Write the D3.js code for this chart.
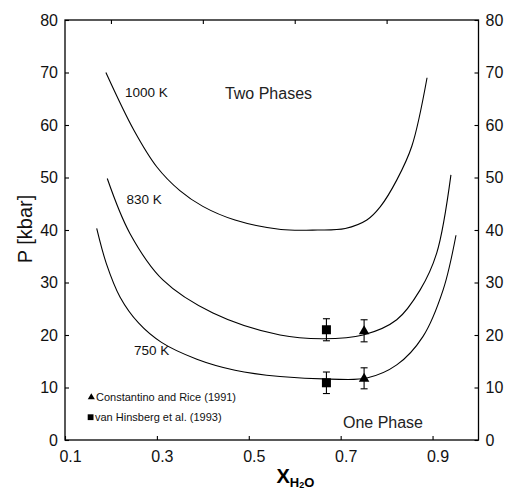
<!DOCTYPE html>
<html>
<head>
<meta charset="utf-8">
<script src="https://cdn.jsdelivr.net/npm/d3@7"></script>
<style>
  body { margin: 0; background: #fff; }
  svg { display: block; font-family: "Liberation Sans", Arial, sans-serif; }
</style>
</head>
<body>
<div id="chart"></div>
<script>
// --- Data ---
const x1000 = [0.189, 0.25, 0.30, 0.35, 0.40, 0.47, 0.57, 0.65, 0.71, 0.757, 0.786, 0.822, 0.855, 0.888];
const p1000 = [70, 59, 52, 47.5, 44.5, 41.9, 40.1, 40, 40.3, 41.9, 44.4, 49.5, 56, 69];

const x830 = [0.192, 0.241, 0.313, 0.422, 0.568, 0.661, 0.749, 0.822, 0.873, 0.909, 0.94];
const p830 = [49.8, 39.4, 30.5, 24.2, 20, 19.3, 20, 22.9, 28.6, 35.6, 50.5];

const x750 = [0.169, 0.19, 0.22, 0.26, 0.31, 0.387, 0.47, 0.568, 0.677, 0.757, 0.822, 0.879, 0.923, 0.951];
const p750 = [40.3, 33.6, 27.2, 22.3, 18.6, 15.4, 13.3, 12.1, 11.6, 11.8, 14.3, 19.7, 28.6, 39];

// Constantino and Rice (1991) - triangles
const triX = [0.751, 0.751];
const triP = [20.8, 11.75];
const triErr = [2.1, 2.0];
// van Hinsberg et al. (1993) - squares
const sqX = [0.669, 0.669];
const sqP = [21, 10.9];
const sqErr = [2.1, 2.05];

const xTickLabels = [0.1, 0.3, 0.5, 0.7, 0.9];
const xTopTicks = [0.2, 0.4, 0.6, 0.8];
const yTicks = [0, 10, 20, 30, 40, 50, 60, 70, 80];

const curveLabels = [
  { text: "1000 K", x: 0.2306, p: 65.4 },
  { text: "830 K", x: 0.234, p: 44.9 },
  { text: "750 K", x: 0.25, p: 16.1 }
];

// --- Layout ---
const W = 507, H = 490;
const plot = { left: 65, right: 478.5, top: 20, bottom: 440 };

const svg = d3.select("#chart").append("svg")
  .attr("width", W).attr("height", H);

svg.append("rect").attr("width", W).attr("height", H).attr("fill", "#fff");

const x = d3.scaleLinear().domain([0.1, 1.0]).range([plot.left, plot.right]);
const y = d3.scaleLinear().domain([0, 80]).range([plot.bottom, plot.top]);

// Axes (ticks point inward)
const bottomAxis = svg.append("g")
  .attr("transform", `translate(0,${plot.bottom})`)
  .call(d3.axisBottom(x).tickValues(xTickLabels).tickFormat(d3.format(".1f"))
    .tickSizeInner(-4).tickSizeOuter(0).tickPadding(11));
bottomAxis.selectAll("text").attr("dx", 5);

svg.append("g")
  .attr("transform", `translate(0,${plot.top})`)
  .call(d3.axisTop(x).tickValues(xTopTicks).tickFormat("")
    .tickSizeInner(-4).tickSizeOuter(0));

svg.append("g")
  .attr("transform", `translate(${plot.left},0)`)
  .call(d3.axisLeft(y).tickValues(yTicks).tickSizeInner(-4).tickSizeOuter(0).tickPadding(7));

svg.append("g")
  .attr("transform", `translate(${plot.right},0)`)
  .call(d3.axisRight(y).tickValues(yTicks).tickSizeInner(-4).tickSizeOuter(0).tickPadding(7));

svg.selectAll(".domain").remove();
svg.selectAll(".tick line").attr("stroke", "#000").attr("stroke-width", 1.1);
svg.selectAll(".tick text")
  .attr("font-family", "Liberation Sans, Arial, sans-serif")
  .attr("font-size", 16).attr("fill", "#111");

// Frame
svg.append("rect")
  .attr("x", plot.left).attr("y", plot.top)
  .attr("width", plot.right - plot.left).attr("height", plot.bottom - plot.top)
  .attr("fill", "none").attr("stroke", "#000").attr("stroke-width", 1.3);

// Curves
const line = d3.line()
  .x(d => x(d[0]))
  .y(d => y(d[1]))
  .curve(d3.curveCatmullRom.alpha(0.5));

[[x1000, p1000], [x830, p830], [x750, p750]].forEach(([xs, ps]) => {
  svg.append("path")
    .datum(xs.map((v, i) => [v, ps[i]]))
    .attr("fill", "none")
    .attr("stroke", "#000")
    .attr("stroke-width", 1.1)
    .attr("d", line);
});

// Curve labels
svg.selectAll(".clabel")
  .data(curveLabels)
  .enter().append("text")
  .attr("x", d => x(d.x))
  .attr("y", d => y(d.p))
  .attr("font-size", 13.5)
  .attr("fill", "#111")
  .text(d => d.text);

// Region labels
svg.append("text").attr("x", x(0.448)).attr("y", y(65.0))
  .attr("font-size", 16).attr("fill", "#222").text("Two Phases");
svg.append("text").attr("x", x(0.705)).attr("y", y(2.2))
  .attr("font-size", 16).attr("fill", "#222").text("One Phase");

// Error bars + markers
function errorBars(xs, ps, errs) {
  xs.forEach((v, i) => {
    const cx = x(v);
    const g = svg.append("g").attr("stroke", "#000").attr("stroke-width", 1.1);
    g.append("line").attr("x1", cx).attr("x2", cx)
      .attr("y1", y(ps[i] + errs[i])).attr("y2", y(ps[i] - errs[i]));
    [ps[i] + errs[i], ps[i] - errs[i]].forEach(e => {
      g.append("line").attr("x1", cx - 3.5).attr("x2", cx + 3.5)
        .attr("y1", y(e)).attr("y2", y(e));
    });
  });
}
errorBars(sqX, sqP, sqErr);
errorBars(triX, triP, triErr);

svg.selectAll(".sq")
  .data(sqX.map((v, i) => [v, sqP[i]]))
  .enter().append("rect")
  .attr("x", d => x(d[0]) - 4.5)
  .attr("y", d => y(d[1]) - 4.5)
  .attr("width", 9).attr("height", 9)
  .attr("fill", "#000");

const triangle = d3.symbol().type(d3.symbolTriangle).size(48);
svg.selectAll(".tri")
  .data(triX.map((v, i) => [v, triP[i]]))
  .enter().append("path")
  .attr("transform", d => `translate(${x(d[0])},${y(d[1]) + 0.5})`)
  .attr("d", triangle)
  .attr("fill", "#000");

// Legend
const legend = svg.append("g").attr("font-size", 11).attr("fill", "#111");
legend.append("path")
  .attr("transform", "translate(91.3,397.3)")
  .attr("d", d3.symbol().type(d3.symbolTriangle).size(22))
  .attr("fill", "#000");
legend.append("text").attr("x", 96).attr("y", 400.5).text("Constantino and Rice (1991)");
legend.append("rect").attr("x", 87.7).attr("y", 414.3).attr("width", 5.8).attr("height", 5.8).attr("fill", "#000");
legend.append("text").attr("x", 95).attr("y", 421.3).text("van Hinsberg et al. (1993)");

// Axis titles
svg.append("text")
  .attr("transform", "translate(32,229) rotate(-90)")
  .attr("text-anchor", "middle")
  .attr("font-size", 20)
  .attr("fill", "#111")
  .text("P [kbar]");

const xt = svg.append("text")
  .attr("x", 276.5).attr("y", 483)
  .attr("font-weight", "bold")
  .attr("fill", "#000");
xt.append("tspan").attr("font-size", 20).text("X");
xt.append("tspan").attr("font-size", 13).attr("dy", 4).text("H");
xt.append("tspan").attr("font-size", 9).attr("dy", 1).text("2");
xt.append("tspan").attr("font-size", 13).attr("dy", -1).text("O");
</script>
</body>
</html>
